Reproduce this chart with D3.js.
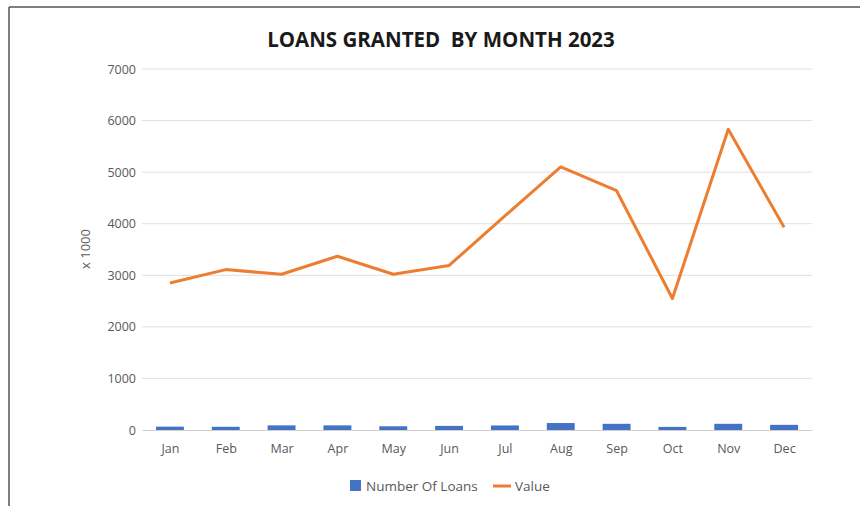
<!DOCTYPE html>
<html><head><meta charset="utf-8">
<script src="https://cdn.jsdelivr.net/npm/d3@7"></script>
<style>body{margin:0;background:#fff;}svg{display:block;}</style>
</head><body>
<svg id="c" width="860" height="506"></svg>
<script>
const months = ["Jan","Feb","Mar","Apr","May","Jun","Jul","Aug","Sep","Oct","Nov","Dec"];
const numberOfLoans = [65, 62, 90, 90, 72, 80, 88, 135, 120, 60, 120, 100];
const values = [2850, 3110, 3020, 3370, 3020, 3190, 4150, 5100, 4640, 2550, 5830, 3930];
const yTicks = [0,1000,2000,3000,4000,5000,6000,7000];

const svg = d3.select("#c");
const W = 860, H = 506;
const m = {left:142, right:48, top:69, bottom:76};
const x = d3.scaleBand().domain(months).range([m.left, W-m.right]).paddingInner(0.5).paddingOuter(0.25);
const xp = d3.scalePoint().domain(months).range([m.left, W-m.right]).padding(0.5);
const y = d3.scaleLinear().domain([0,7000]).range([H-m.bottom, m.top]);
const FONT = "'Open Sans', sans-serif";

// frame
svg.append("line").attr("x1",9).attr("x2",9).attr("y1",7).attr("y2",H).attr("stroke","#555").attr("stroke-width",1.5);
svg.append("line").attr("x1",9).attr("x2",W).attr("y1",7).attr("y2",7).attr("stroke","#555").attr("stroke-width",1.5);

// grid
svg.append("g").selectAll("line").data(yTicks.filter(d=>d>0)).join("line")
  .attr("x1",m.left).attr("x2",W-m.right).attr("y1",d=>y(d)).attr("y2",d=>y(d))
  .attr("stroke","#e0e0e0").attr("stroke-width",1);

// y axis
const ya = svg.append("g").attr("transform",`translate(${m.left},0)`)
  .call(d3.axisLeft(y).tickValues(yTicks).tickSize(0).tickPadding(6).tickFormat(d3.format("d")));
ya.select(".domain").remove();
ya.selectAll("text").attr("fill","#595959").style("font-family",FONT).style("font-size","12.5px");

// x axis
const xa = svg.append("g").attr("transform",`translate(0,${y(0)})`)
  .call(d3.axisBottom(xp).tickSize(0).tickPadding(14));
xa.select(".domain").attr("stroke","#d0d0d0");
xa.selectAll("text").attr("fill","#595959").style("font-family",FONT).style("font-size","12.5px");

// bars
svg.append("g").selectAll("rect").data(numberOfLoans).join("rect")
  .attr("x",(d,i)=>xp(months[i]) - x.bandwidth()/2)
  .attr("width",x.bandwidth())
  .attr("y",d=>y(d)).attr("height",d=>y(0)-y(d))
  .attr("fill","#4472C4");

// line
svg.append("path").datum(values)
  .attr("d", d3.line().x((d,i)=>xp(months[i])).y(d=>y(d)))
  .attr("fill","none").attr("stroke","#ED7D31").attr("stroke-width",3).attr("stroke-linejoin","round");

// title
svg.append("text").attr("x",441).attr("y",47).attr("text-anchor","middle")
  .style("font-family",FONT).style("font-weight","bold").style("font-size","20.5px")
  .attr("fill","#1a1a1a").attr("xml:space","preserve").text("LOANS GRANTED  BY MONTH 2023");

// y title
svg.append("text").attr("transform","translate(90,249) rotate(-90)").attr("text-anchor","middle")
  .style("font-family",FONT).style("font-size","13px").attr("fill","#595959").text("x 1000");

// legend
const lg = svg.append("g");
lg.append("rect").attr("x",350).attr("y",480).attr("width",11).attr("height",11).attr("fill","#4472C4");
lg.append("text").attr("x",366).attr("y",491).style("font-family",FONT).style("font-size","13.5px").attr("fill","#595959").text("Number Of Loans");
lg.append("line").attr("x1",493).attr("x2",511).attr("y1",486).attr("y2",486).attr("stroke","#ED7D31").attr("stroke-width",3);
lg.append("text").attr("x",515).attr("y",491).style("font-family",FONT).style("font-size","13.5px").attr("fill","#595959").text("Value");
</script>
</body></html>
